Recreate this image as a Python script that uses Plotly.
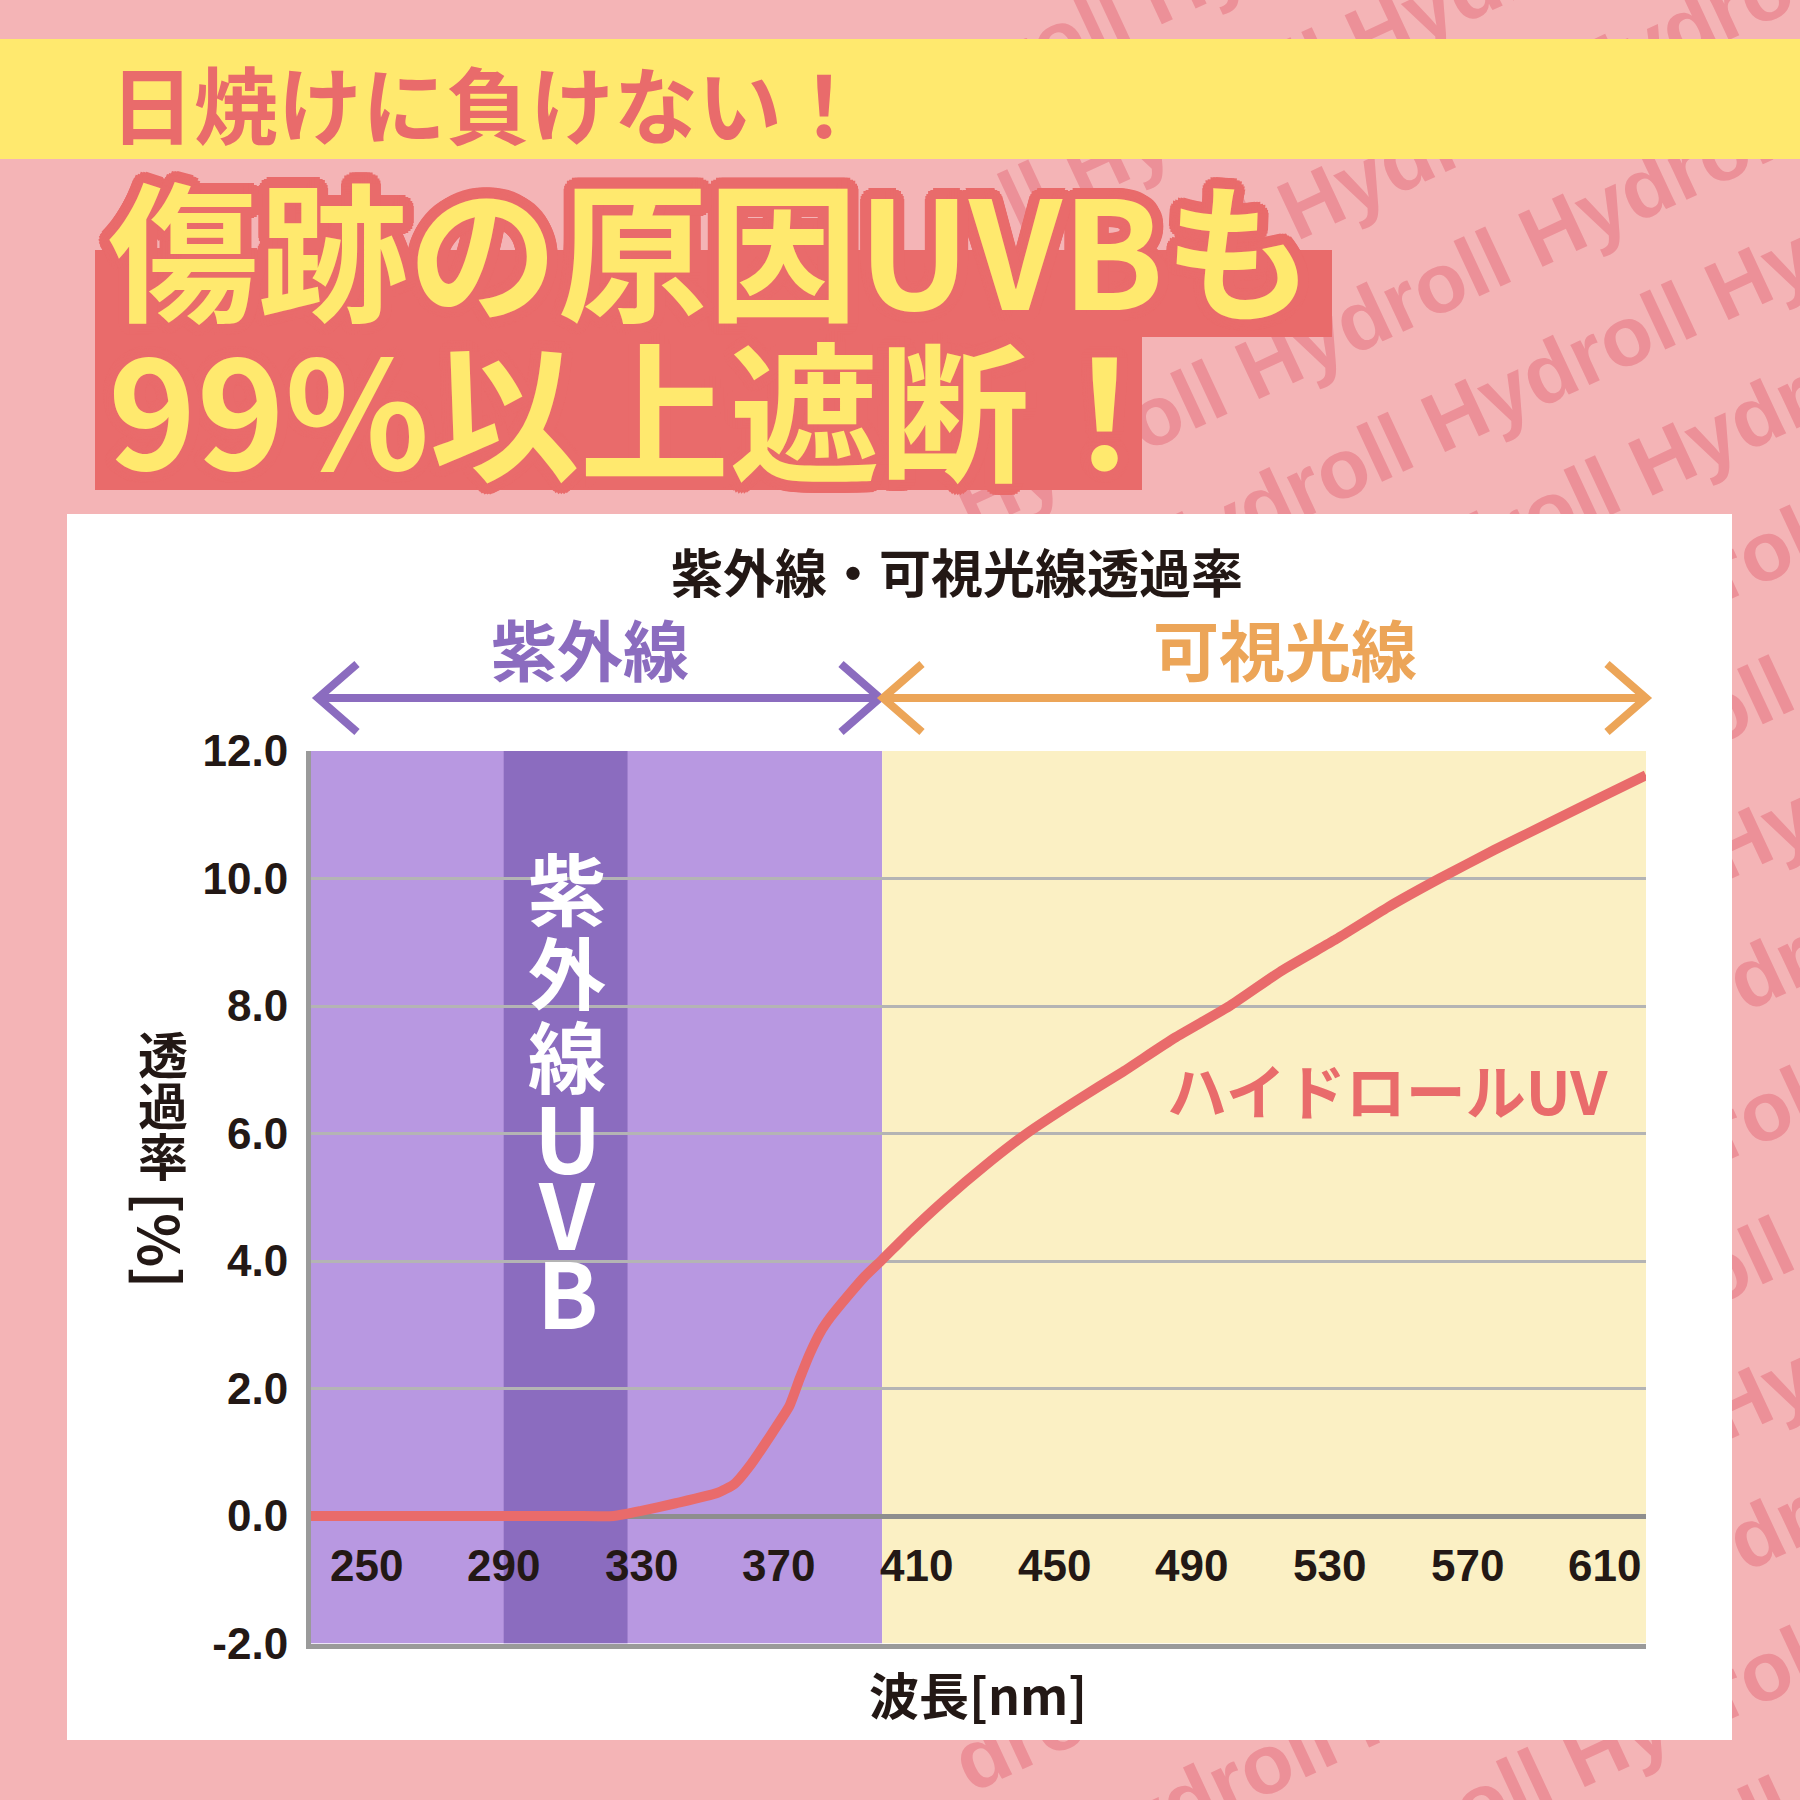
import math
import plotly.graph_objects as go

W, H = 1800, 1800

# ---------------- data ----------------
wavelength_nm = [234, 250, 270, 290, 310, 322, 330, 340, 352, 357, 362, 368, 373, 376, 379,
                 382, 385, 390, 395, 400, 408, 418, 430, 442, 456, 470, 485, 501, 516, 532, 547,
                 562, 578, 593, 608, 622]
transmittance_pct = [0, 0, 0, 0, 0, 0, 0.08, 0.2, 0.36, 0.5, 0.82, 1.3, 1.72, 2.15, 2.55,
                     2.88, 3.12, 3.45, 3.76, 4.02, 4.45, 4.95, 5.5, 6.0, 6.5, 6.97, 7.5, 8.0, 8.55, 9.05, 9.55,
                     10.0, 10.45, 10.85, 11.25, 11.62]

x_tick_values = [250, 290, 330, 370, 410, 450, 490, 530, 570, 610]
x_tick_labels = ["250", "290", "330", "370", "410", "450", "490", "530", "570", "610"]
y_tick_values = [-2, 0, 2, 4, 6, 8, 10, 12]
y_tick_labels = ["-2.0", "0.0", "2.0", "4.0", "6.0", "8.0", "10.0", "12.0"]
x_tick_label_y = -0.77

x_range = [234, 622]
y_range = [-2, 12]
uv_band = [234, 400]
uvb_band = [290, 326]
visible_band = [400, 622]

header_text = "日焼けに負けない！"
headline_1 = "傷跡の原因UVBも"
headline_2 = "99%以上遮断！"
chart_title = "紫外線・可視光線透過率"
uv_label = "紫外線"
visible_label = "可視光線"
uvb_vertical = ["紫", "外", "線", "U", "V", "B"]
series_name = "ハイドロールUV"
series_label_pos = [547, 6.7]
y_title_chars = ["透", "過", "率"]
y_title_unit = "[%]"
x_title = "波長[nm]"
watermark_word = "Hydroll"

# ---------------- style ----------------
PINK = "#F4B4B6"
YELLOW = "#FFE96E"
RED = "#E96B6B"
PURPLE_LIGHT = "#B898E1"
PURPLE_DARK = "#8B6CBF"
CREAM = "#FBF0C4"
ORANGE = "#ECA558"
INK = "#231815"
WATERMARK = "#EC9098"
CJK = "Noto Sans CJK JP"
LATIN = "Liberation Sans, Arial, sans-serif"


def fx(px):
    return px / W


def fy(py):
    return 1 - py / H


def outline(color, r, n=24):
    parts = []
    for i in range(n):
        a = 2 * math.pi * i / n
        parts.append(f"{r * math.cos(a):.1f}px {r * math.sin(a):.1f}px 0 {color}")
    return ", ".join(parts)


X_DOMAIN = [fx(311), fx(1646)]
Y_DOMAIN = [fy(1643.5), fy(751)]

fig = go.Figure()

fig.add_trace(go.Scatter(
    x=wavelength_nm, y=transmittance_pct, mode="lines",
    line=dict(color=RED, width=10, shape="spline", smoothing=0.5),
    showlegend=False, hoverinfo="skip",
))

shapes = []

# watermark rows (diagonal)
theta = math.radians(25)
base_text = (watermark_word + " ") * 10
row_y = [-60 + 140 * k for k in range(18)]
for k, ys in enumerate(row_y):
    xs = 955
    L = 1900
    off = (k * 2) % 8
    shapes.append(dict(
        type="line", xref="paper", yref="paper",
        x0=fx(xs), y0=fy(ys), x1=fx(xs + L * math.cos(theta)), y1=fy(ys - L * math.sin(theta)),
        line=dict(color="rgba(0,0,0,0)", width=0), layer="below",
        label=dict(text=base_text[off:], textposition="start", yanchor="middle",
                   font=dict(family=LATIN, size=84, color=WATERMARK, weight="bold")),
    ))

# header yellow band
shapes.append(dict(type="rect", xref="paper", yref="paper", x0=0, x1=1, y0=fy(159), y1=fy(39),
                   fillcolor=YELLOW, line=dict(width=0), layer="below"))
# red boxes behind headline
shapes.append(dict(type="rect", xref="paper", yref="paper", x0=fx(95), x1=fx(1332), y0=fy(337), y1=fy(250),
                   fillcolor=RED, line=dict(width=0), layer="below"))
shapes.append(dict(type="rect", xref="paper", yref="paper", x0=fx(95), x1=fx(1142), y0=fy(490), y1=fy(336),
                   fillcolor=RED, line=dict(width=0), layer="below"))
# white chart panel
shapes.append(dict(type="rect", xref="paper", yref="paper", x0=fx(67), x1=fx(1732), y0=fy(1740), y1=fy(514),
                   fillcolor="white", line=dict(width=0), layer="below"))

# wavelength bands (data coordinates)
shapes.append(dict(type="rect", xref="x", yref="y", x0=uv_band[0], x1=uv_band[1], y0=y_range[0], y1=y_range[1],
                   fillcolor=PURPLE_LIGHT, line=dict(width=0), layer="below"))
shapes.append(dict(type="rect", xref="x", yref="y", x0=uvb_band[0], x1=uvb_band[1], y0=y_range[0], y1=y_range[1],
                   fillcolor=PURPLE_DARK, line=dict(width=0), layer="below"))
shapes.append(dict(type="rect", xref="x", yref="y", x0=visible_band[0], x1=visible_band[1], y0=y_range[0], y1=y_range[1],
                   fillcolor=CREAM, line=dict(width=0), layer="below"))


# range arrows
def arrow(x_left, x_right, y, color):
    d = 39
    h = 34
    path = (f"M {fx(x_left)},{fy(y)} L {fx(x_right)},{fy(y)} "
            f"M {fx(x_left + d)},{fy(y - h)} L {fx(x_left)},{fy(y)} L {fx(x_left + d)},{fy(y + h)} "
            f"M {fx(x_right - d)},{fy(y - h)} L {fx(x_right)},{fy(y)} L {fx(x_right - d)},{fy(y + h)}")
    return dict(type="path", xref="paper", yref="paper", path=path,
                line=dict(color=color, width=8), layer="above")


shapes.append(arrow(318, 880, 698, PURPLE_DARK))
shapes.append(arrow(883, 1646, 698, ORANGE))

annotations = []


def note(text, x, y, size, color, family=CJK, xanchor="center", xref="paper", yref="paper", **kw):
    return dict(text=text, x=x, y=y, xref=xref, yref=yref, xanchor=xanchor, yanchor="middle",
                showarrow=False, font=dict(family=family, size=size, color=color, weight="bold",
                                           **kw.pop("font_extra", {})), **kw)


# header
annotations.append(note(header_text, fx(108), fy(102), 84, RED, xanchor="left"))
# headline lines
for txt, yc in [(headline_1, 245), (headline_2, 404)]:
    annotations.append(note(txt, fx(106), fy(yc), 150, YELLOW, xanchor="left",
                            font_extra=dict(shadow=outline(RED, 11))))
# chart title and range labels
annotations.append(note(chart_title, fx(957), fy(570), 52, INK))
annotations.append(note(uv_label, fx(590), fy(647), 66, PURPLE_DARK))
annotations.append(note(visible_label, fx(1285), fy(647), 66, ORANGE))

# vertical UVB label
for ch, yc in zip(uvb_vertical, [886, 970, 1054, 1135, 1211, 1290]):
    size = 78 if ord(ch) > 255 else 90
    annotations.append(note(ch, fx(567), fy(yc), size, "white"))

# series label
annotations.append(note(series_name, series_label_pos[0], series_label_pos[1], 60, RED, xref="x", yref="y"))

# x tick labels inside the plot
for v, t in zip(x_tick_values, x_tick_labels):
    annotations.append(note(t, v, x_tick_label_y, 44, INK, family=LATIN, xref="x", yref="y"))

# y axis title (vertical writing)
for ch, yc in zip(y_title_chars, [1052, 1103, 1154]):
    annotations.append(note(ch, fx(163), fy(yc), 50, INK))
annotations.append(note(y_title_unit, fx(163), fy(1240), 56, INK, textangle=90))
# x axis title
annotations.append(note(x_title, fx(978), fy(1693), 50, INK))

fig.update_layout(
    width=W, height=H, autosize=False,
    margin=dict(l=0, r=0, t=0, b=0, pad=0, autoexpand=False),
    paper_bgcolor=PINK, plot_bgcolor="rgba(0,0,0,0)",
    showlegend=False,
    shapes=shapes, annotations=annotations,
    xaxis=dict(domain=X_DOMAIN, range=x_range, showgrid=False, zeroline=False, automargin=False,
               showticklabels=False, ticks="", showline=True, linecolor="#9A9A9A", linewidth=5),
    yaxis=dict(domain=Y_DOMAIN, range=y_range, tickvals=y_tick_values, ticktext=y_tick_labels,
               automargin=False,
               showgrid=True, gridcolor="#B4B4B4", gridwidth=3,
               zeroline=True, zerolinecolor="#8E8E8E", zerolinewidth=5,
               showline=True, linecolor="#9A9A9A", linewidth=5,
               ticks="outside", ticklen=9, tickcolor="rgba(0,0,0,0)",
               tickfont=dict(family=LATIN, size=44, color=INK, weight="bold")),
)

fig.write_html("out.html")
